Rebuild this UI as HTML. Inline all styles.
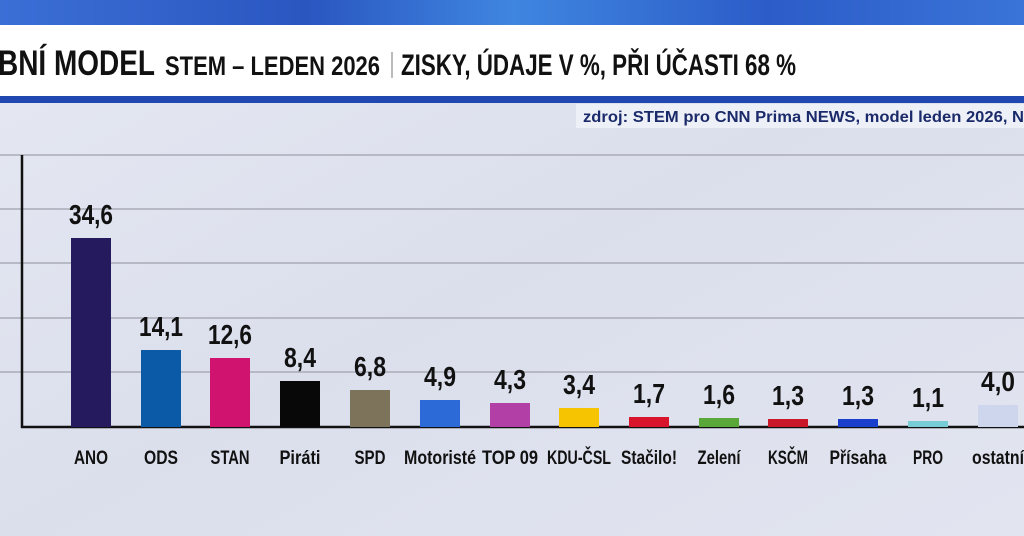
<!DOCTYPE html>
<html><head><meta charset="utf-8"><style>
html,body{margin:0;padding:0;width:1024px;height:536px;overflow:hidden}
body{background:#dfe3ef}
svg{display:block}
text{font-family:"Liberation Sans Narrow","Liberation Sans",sans-serif;font-weight:bold}
</style></head><body>
<svg width="1024" height="536" viewBox="0 0 1024 536" xmlns="http://www.w3.org/2000/svg">
<defs>
<linearGradient id="top" x1="0" y1="0" x2="1" y2="0">
<stop offset="0" stop-color="#3b6fd6"/><stop offset="0.3" stop-color="#2a56c0"/><stop offset="0.5" stop-color="#3f86e0"/><stop offset="0.75" stop-color="#2c5cc8"/><stop offset="1" stop-color="#3a74d8"/></linearGradient>
<linearGradient id="bg" x1="0" y1="0" x2="1" y2="1">
<stop offset="0" stop-color="#e6e9f3"/><stop offset="0.5" stop-color="#dbdfec"/><stop offset="1" stop-color="#e2e5f0"/></linearGradient>
</defs>
<rect width="1024" height="536" fill="url(#bg)"/>
<rect width="1024" height="25" fill="url(#top)"/>
<rect y="25" width="1024" height="71" fill="#fff"/>
<rect y="96" width="1024" height="7" fill="#2148b0"/>
<text x="-2" y="75" font-size="35" textLength="157" lengthAdjust="spacingAndGlyphs" fill="#111">BNÍ MODEL</text>
<text x="165" y="75" font-size="27" textLength="215" lengthAdjust="spacingAndGlyphs" fill="#111">STEM – LEDEN 2026</text>
<rect x="391" y="52" width="2" height="26" fill="#bbb"/>
<text x="401" y="75" font-size="30" textLength="395" lengthAdjust="spacingAndGlyphs" fill="#111">ZISKY, ÚDAJE V %, PŘI ÚČASTI 68 %</text>
<rect x="576" y="104" width="448" height="24" fill="#eef0f7"/>
<text x="583" y="122" font-size="16" textLength="441" lengthAdjust="spacingAndGlyphs" fill="#1a2a6a">zdroj: STEM pro CNN Prima NEWS, model leden 2026, N</text>
<g stroke="#a9abb6" stroke-width="1.5">
<line x1="0" y1="155" x2="1024" y2="155"/>
<line x1="0" y1="209" x2="1024" y2="209"/>
<line x1="0" y1="263" x2="1024" y2="263"/>
<line x1="0" y1="318" x2="1024" y2="318"/>
<line x1="0" y1="372" x2="1024" y2="372"/>
</g>
<line x1="22" y1="155" x2="22" y2="428" stroke="#111" stroke-width="2.5"/>
<line x1="21" y1="427" x2="1024" y2="427" stroke="#111" stroke-width="2.5"/>
<g font-size="28" fill="#111" text-anchor="middle" lengthAdjust="spacingAndGlyphs">
<rect x="71" y="238" width="40" height="189" fill="#261a5e"/><text x="91" y="224" textLength="44" lengthAdjust="spacingAndGlyphs">34,6</text>
<rect x="141" y="350" width="40" height="77" fill="#0a5aa8"/><text x="161" y="336" textLength="44" lengthAdjust="spacingAndGlyphs">14,1</text>
<rect x="210" y="358" width="40" height="69" fill="#d0136e"/><text x="230" y="344" textLength="44" lengthAdjust="spacingAndGlyphs">12,6</text>
<rect x="280" y="381" width="40" height="46" fill="#080808"/><text x="300" y="367" textLength="32" lengthAdjust="spacingAndGlyphs">8,4</text>
<rect x="350" y="390" width="40" height="37" fill="#7c735a"/><text x="370" y="376" textLength="32" lengthAdjust="spacingAndGlyphs">6,8</text>
<rect x="420" y="400" width="40" height="27" fill="#2c6ad8"/><text x="440" y="386" textLength="32" lengthAdjust="spacingAndGlyphs">4,9</text>
<rect x="490" y="403" width="40" height="24" fill="#b23fa6"/><text x="510" y="389" textLength="32" lengthAdjust="spacingAndGlyphs">4,3</text>
<rect x="559" y="408" width="40" height="19" fill="#f6c400"/><text x="579" y="394" textLength="32" lengthAdjust="spacingAndGlyphs">3,4</text>
<rect x="629" y="417" width="40" height="10" fill="#d8152a"/><text x="649" y="403" textLength="32" lengthAdjust="spacingAndGlyphs">1,7</text>
<rect x="699" y="418" width="40" height="9" fill="#5aa83a"/><text x="719" y="404" textLength="32" lengthAdjust="spacingAndGlyphs">1,6</text>
<rect x="768" y="419" width="40" height="8" fill="#c8182a"/><text x="788" y="405" textLength="32" lengthAdjust="spacingAndGlyphs">1,3</text>
<rect x="838" y="419" width="40" height="8" fill="#1a3fcc"/><text x="858" y="405" textLength="32" lengthAdjust="spacingAndGlyphs">1,3</text>
<rect x="908" y="421" width="40" height="6" fill="#78ccd6"/><text x="928" y="407" textLength="32" lengthAdjust="spacingAndGlyphs">1,1</text>
<rect x="978" y="405" width="40" height="22" fill="#cdd6ec"/><text x="998" y="391" textLength="34" lengthAdjust="spacingAndGlyphs">4,0</text>
</g>
<g font-size="19" fill="#111" text-anchor="middle">
<text x="91" y="464" textLength="34" lengthAdjust="spacingAndGlyphs">ANO</text>
<text x="161" y="464" textLength="34" lengthAdjust="spacingAndGlyphs">ODS</text>
<text x="230" y="464" textLength="39" lengthAdjust="spacingAndGlyphs">STAN</text>
<text x="300" y="464" textLength="41" lengthAdjust="spacingAndGlyphs">Piráti</text>
<text x="370" y="464" textLength="31" lengthAdjust="spacingAndGlyphs">SPD</text>
<text x="440" y="464" textLength="72" lengthAdjust="spacingAndGlyphs">Motoristé</text>
<text x="510" y="464" textLength="56" lengthAdjust="spacingAndGlyphs">TOP 09</text>
<text x="579" y="464" textLength="64" lengthAdjust="spacingAndGlyphs">KDU-ČSL</text>
<text x="649" y="464" textLength="56" lengthAdjust="spacingAndGlyphs">Stačilo!</text>
<text x="719" y="464" textLength="43" lengthAdjust="spacingAndGlyphs">Zelení</text>
<text x="788" y="464" textLength="40" lengthAdjust="spacingAndGlyphs">KSČM</text>
<text x="858" y="464" textLength="57" lengthAdjust="spacingAndGlyphs">Přísaha</text>
<text x="928" y="464" textLength="30" lengthAdjust="spacingAndGlyphs">PRO</text>
<text x="998" y="464" textLength="52" lengthAdjust="spacingAndGlyphs">ostatní</text>
</g>
</svg>
</body></html>
